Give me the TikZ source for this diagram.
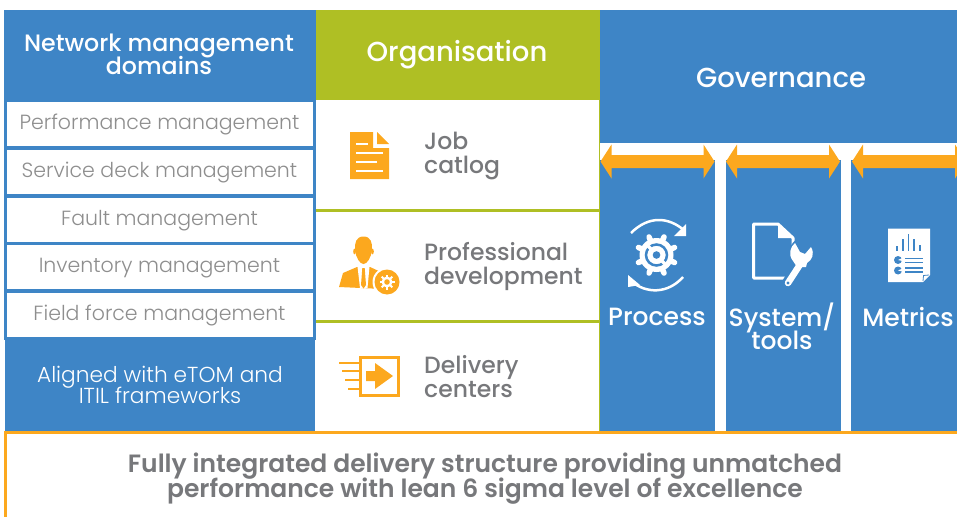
\documentclass[tikz,border=0pt]{standalone}
\usepackage{fontspec}
\setmainfont{Poppins}
\newfontfamily\medfont{Poppins Medium}
\newfontfamily\semifont{Poppins SemiBold}
\newfontfamily\lightfont{Poppins Light}
\usepackage{tikz}
\normallineskiplimit=-50pt
\lineskiplimit=-50pt
\definecolor{blueband}{HTML}{3E85C6}
\definecolor{oliveband}{HTML}{AFBF24}
\definecolor{orangemark}{HTML}{FCA81E}
\definecolor{greytext}{HTML}{77787B}
\definecolor{lighttext}{HTML}{8E8E8E}
\tikzset{
	x=1pt,y=-1pt,
	band/.style={inner sep=0pt,outer sep=0pt,text=white},
	domainbox/.style={draw=blueband,line width=3pt,fill=white,inner sep=0pt,outer sep=0pt,minimum width=309pt,minimum height=47pt,text=lighttext,font=\lightfont\fontsize{20.5}{22}\selectfont,text height=15pt,text depth=4pt},
	orgtext/.style={anchor=west,align=left,inner sep=0pt,text=greytext,font=\medfont\fontsize{23.5}{24}\selectfont},
	govtext/.style={align=center,inner sep=0pt,text=white,font=\medfont\fontsize{25}{23}\selectfont},
	paperline/.style={blueband,line width=1.4pt},
	govarrow/.pic={\fill[orangemark] (0,0) -- (11,-17) -- (11,-6.5) -- (103,-6.5) -- (103,-17) -- (114,0) -- (103,17) -- (103,6.5) -- (11,6.5) -- (11,17) -- cycle;}
}
\begin{document}
\begin{tikzpicture}
	\useasboundingbox (0,0) rectangle (957,516);
	\clip (0,0) rectangle (957,516);

	\fill[blueband] (4,10) rectangle (316,100);
	\fill[oliveband] (316,10) rectangle (600,100);
	\fill[blueband] (600,10) rectangle (957,143);
	\fill[blueband] (5,338) rectangle (315,431);
	\fill[blueband] (600,160) rectangle (715,431);
	\fill[blueband] (726,160) rectangle (841,431);
	\fill[blueband] (851,160) rectangle (957,431);

	\node[band,align=center,font=\medfont\fontsize{23.7}{23}\selectfont] (netdomains) at (159,54.5) {Network management\\domains};
	\node[band,font=\medfont\fontsize{27.5}{28}\selectfont] (organisation) at (457,55) {Organisation};
	\node[band,font=\medfont\fontsize{27.5}{28}\selectfont] (governance) at (781,78) {Governance};

	\node[domainbox] (perf) at (159.5,124) {Performance management};
	\node[domainbox] (service) at (159.5,171.5) {Service deck management};
	\node[domainbox] (fault) at (159.5,219.5) {Fault management};
	\node[domainbox] (inventory) at (159.5,267) {Inventory management};
	\node[domainbox] (field) at (159.5,314.5) {Field force management};
	\node[band,align=center,font=\lightfont\fontsize{21.7}{21}\selectfont] (aligned) at (160,384.5) {Aligned with eTOM and\\ITIL frameworks};

	\draw[oliveband,line width=3pt] (316,210) -- (600,210);
	\draw[oliveband,line width=3pt] (316,321) -- (600,321);
	\draw[oliveband,line width=1pt] (599.5,100) -- (599.5,431);

	\node[orgtext] (job) at (424,156) {Job\\catlog};
	\node[orgtext] (professional) at (424,267) {Professional\\development};
	\node[orgtext] (delivery) at (424,377) {Delivery\\centers};

	\fill[orangemark] (350,132) -- (373,132) -- (373,148) -- (389,148) -- (389,179) -- (350,179) -- cycle;
	\fill[orangemark] (377,132) -- (389,144) -- (377,144) -- cycle;
	\foreach \y/\x in {144/368,153/383,162/377,171/383}
		\draw[white,line width=2.5pt] (356,\y) -- (\x,\y);

	\fill[orangemark] (363.5,236.5) .. controls (371,236.5) and (372.5,243) .. (372,250) .. controls (371,258) and (367,264) .. (363.5,264) .. controls (360,264) and (356,258) .. (355,250) .. controls (354.5,243) and (356,236.5) .. (363.5,236.5) -- cycle;
	\fill[orangemark] (354.5,251.5) ellipse (1.3 and 2.8);
	\fill[orangemark] (372.5,251.5) ellipse (1.3 and 2.8);
	\fill[orangemark] (339,287) -- (343,273) -- (357,267) -- (370,267) -- (383,273) -- (383,289) -- cycle;
	\fill[white] (357.5,266.5) -- (369.5,266.5) -- (367.5,288) -- (360,288) -- cycle;
	\fill[orangemark] (362.3,268) -- (364.7,268) -- (366,285) -- (363.5,288.5) -- (361,285) -- cycle;
	\fill[white] (387,282) circle (14.5);
	\fill[orangemark] (387,282) circle (12.5);
	\foreach \a in {0,45,...,315}
		\draw[white,line width=2pt] (387,282) -- ++(\a:7.5);
	\fill[white] (387,282) circle (5.5);
	\fill[orangemark] (387,282) circle (2.8);

	\draw[orangemark,line width=3pt] (360.5,357.5) rectangle (398.5,395);
	\fill[orangemark] (366,371) -- (375,371) -- (375,363) -- (393,376) -- (375,389) -- (375,381) -- (366,381) -- cycle;
	\foreach \y/\x in {363/339,371/342,380/345,389/348}
		\draw[orangemark,line width=2.5pt] (\x,\y) -- (359,\y);

	\node[govtext] (process) at (657,316.5) {Process};
	\node[govtext] (system) at (782,326.5) {System/\\tools};
	\node[govtext] (metrics) at (908,316.5) {Metrics};

	\pic at (600.5,161.5) {govarrow};
	\pic at (726,161.5) {govarrow};
	\pic at (852,161.5) {govarrow};

	\draw[white,line width=2.5pt] (631,233) .. controls (648,216) and (668,216) .. (685,231);
	\fill[white] (686,224) -- (686,236) -- (674,236) -- cycle;
	\draw[white,line width=2.5pt] (683,277) .. controls (668,294) and (646,294) .. (631,281);
	\fill[white] (628,275) -- (628,287) -- (640,285) -- cycle;
	\foreach \a in {0,45,...,315}
		\draw[white,line width=5.5pt,line cap=round] (656.5,255) -- ++(\a+22.5:19.5);
	\fill[white] (656.5,255) circle (17);
	\draw[blueband,line width=2.5pt] (656.5,255) circle (10.5);
	\draw[white,line width=3.5pt] (651,249) -- (646,244);
	\draw[white,line width=3.5pt] (662,261) -- (667,266);
	\fill[white] (656.5,255) circle (7);
	\fill[blueband] (656.5,255) circle (3.8);

	\draw[white,line width=3pt,line join=round] (785,278) -- (753.5,278) -- (753.5,224) -- (778,224) -- (793,238) -- (793,245);
	\fill[white] (778,224) -- (778,238) -- (793,238) -- cycle;
	\fill[blueband] (804,252) circle (14.5);
	\draw[blueband,line width=12pt] (788,283) -- (800,264);
	\draw[white,line width=6.5pt,line cap=round] (788,283) -- (801,263);
	\fill[white] (795,243) .. controls (790,247) and (788,255) .. (793,261) -- (797,267) -- (806,267) -- (807,263) .. controls (812,260) and (815,254) .. (811,247) -- (805,254) -- (800,252) -- cycle;
	\fill[blueband] (788,283) circle (1.6);

	\fill[white] (888,228.5) -- (930,228.5) -- (930,275) -- (923,282) -- (888,282) -- cycle;
	\draw[blueband,line width=0.8pt] (923,281) -- (923.5,275.5) -- (929,275);
	\foreach \x/\t in {897/246,903/239,908.5/234,914/239,920/245}
		\draw[paperline] (\x,250.5) -- (\x,\t);
	\foreach \y in {258.5,262.5,268,272}
		\draw[paperline] (905,\y) -- (923,\y);
	\fill[blueband] (898,260) circle (4);
	\fill[blueband] (898,270.5) circle (4);
	\fill[white] (898,260) -- (902.5,258) -- (902.5,261) -- cycle;
	\fill[white] (898,270.5) -- (902.5,268.5) -- (902.5,271.5) -- cycle;

	\draw[orangemark,line width=3pt,fill=white] (5,432) rectangle (975,530);
	\node[align=center,inner sep=0pt,text=greytext,font=\semifont\fontsize{25}{25}\selectfont] (summary) at (485,479) {Fully integrated delivery structure providing unmatched\\performance with lean 6 sigma level of excellence};
\end{tikzpicture}
\end{document}
